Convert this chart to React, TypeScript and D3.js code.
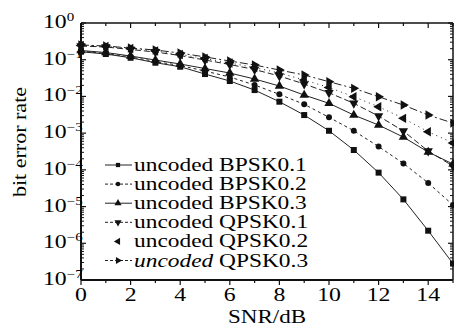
import { useEffect, useRef } from 'react'
import * as d3 from 'd3'

// values (BER vs SNR)
const snr = [0, 1, 2, 3, 4, 5, 6, 7, 8, 9, 10, 11, 12, 13, 14, 15]
const bpsk01 = [0.165, 0.143, 0.113, 0.0828, 0.0644, 0.0407, 0.0263, 0.0149, 0.00718, 0.00311, 0.00116, 3.47e-4, 8.4e-5, 1.57e-5, 2.2e-6, 2.8e-7]
const bpsk02 = [0.171, 0.148, 0.119, 0.0893, 0.0695, 0.0492, 0.0338, 0.0205, 0.0114, 0.0061, 0.0027, 0.00116, 4.3e-4, 1.5e-4, 4.4e-5, 1.1e-5]
const bpsk03 = [0.178, 0.157, 0.126, 0.098, 0.0763, 0.0575, 0.0434, 0.0298, 0.0192, 0.0109, 0.00649, 0.00311, 0.00166, 7.8e-4, 3.05e-4, 1.44e-4]
const qpsk01 = [0.236, 0.222, 0.19, 0.162, 0.13, 0.098, 0.074, 0.054, 0.036, 0.0218, 0.0126, 0.00649, 0.00292, 0.00114, 3.25e-4, 1.27e-4]
const qpsk02 = [0.244, 0.229, 0.202, 0.173, 0.139, 0.108, 0.0813, 0.0613, 0.0434, 0.028, 0.0175, 0.0098, 0.00524, 0.00253, 0.00109, 5.4e-4]
const qpsk03 = [0.252, 0.236, 0.208, 0.184, 0.152, 0.119, 0.0922, 0.0717, 0.0524, 0.0383, 0.0252, 0.0166, 0.0098, 0.00583, 0.00311, 0.00188]

const labels = ['BPSK0.1', 'BPSK0.2', 'BPSK0.3', 'QPSK0.1', 'QPSK0.2', 'QPSK0.3']
const xTicks = [0, 2, 4, 6, 8, 10, 12, 14]
const yExponents = [0, -1, -2, -3, -4, -5, -6, -7]

const allSeries = [bpsk01, bpsk02, bpsk03, qpsk01, qpsk02, qpsk03]
const markers = ['square', 'circle', 'up', 'down', 'left', 'right']
const dashes = ['none', '3,3', 'none', '6,3', '1,4', '8,3,2,3']

const FONT = '"Liberation Serif", "DejaVu Serif", serif'

export default function App() {
  const svgRef = useRef<SVGSVGElement | null>(null)

  useEffect(() => {
    if (!svgRef.current) return
    const svg = d3.select(svgRef.current)
    svg.selectAll('*').remove()

    const left = 81, right = 453, top = 23, bottom = 280
    const x = d3.scaleLinear().domain([0, 15]).range([left, right])
    const y = d3.scaleLog().domain([1e-7, 1]).range([bottom, top])

    const ink = '#111'

    const drawMarker = (g: any, kind: string, cx: number, cy: number, size: number) => {
      if (kind === 'square') {
        const s = Math.sqrt(size)
        g.append('rect').attr('x', cx - s / 2).attr('y', cy - s / 2).attr('width', s).attr('height', s).attr('fill', ink)
        return
      }
      if (kind === 'circle') {
        g.append('circle').attr('cx', cx).attr('cy', cy).attr('r', Math.sqrt(size / Math.PI)).attr('fill', ink)
        return
      }
      const rot = kind === 'up' ? 0 : kind === 'down' ? 180 : kind === 'left' ? -90 : 90
      g.append('path')
        .attr('d', d3.symbol().type(d3.symbolTriangle).size(size)())
        .attr('transform', `translate(${cx},${cy}) rotate(${rot})`)
        .attr('fill', ink)
    }

    // curves
    const line = d3.line<number>().x((_, i) => x(snr[i])).y(d => y(d))
    const plot = svg.append('g')
    allSeries.forEach((vals, k) => {
      plot.append('path')
        .datum(vals)
        .attr('fill', 'none')
        .attr('stroke', '#222')
        .attr('stroke-width', 1)
        .attr('stroke-dasharray', dashes[k])
        .attr('d', line)
    })
    allSeries.forEach((vals, k) => {
      vals.forEach((v, i) => drawMarker(plot, markers[k], x(snr[i]), y(v), markers[k] === 'square' ? 36 : markers[k] === 'circle' ? 28 : 38))
    })

    // frame
    const axes = svg.append('g').attr('stroke', ink)
    axes.append('line').attr('x1', left).attr('x2', right).attr('y1', top).attr('y2', top).attr('stroke-width', 1.5)
    axes.append('line').attr('x1', left).attr('x2', right).attr('y1', bottom).attr('y2', bottom).attr('stroke-width', 2)
    axes.append('line').attr('x1', left).attr('x2', left).attr('y1', top).attr('y2', bottom).attr('stroke-width', 2)
    axes.append('line').attr('x1', right).attr('x2', right).attr('y1', top).attr('y2', bottom).attr('stroke-width', 1.5)

    // x ticks
    d3.range(0, 16).forEach(t => {
      const major = t % 2 === 0
      const len = major ? 5 : 3
      axes.append('line').attr('x1', x(t)).attr('x2', x(t)).attr('y1', top).attr('y2', top + len).attr('stroke-width', 1.2)
      axes.append('line').attr('x1', x(t)).attr('x2', x(t)).attr('y1', bottom).attr('y2', bottom + len).attr('stroke-width', 1.2)
    })

    // y ticks (log)
    yExponents.forEach(e => {
      const v = Math.pow(10, e)
      axes.append('line').attr('x1', left).attr('x2', left + 5).attr('y1', y(v)).attr('y2', y(v)).attr('stroke-width', 1.2)
      axes.append('line').attr('x1', right).attr('x2', right - 5).attr('y1', y(v)).attr('y2', y(v)).attr('stroke-width', 1.2)
      if (e > -7) {
        d3.range(2, 10).forEach(m => {
          const mv = m * v / 10
          axes.append('line').attr('x1', left).attr('x2', left + 3).attr('y1', y(mv)).attr('y2', y(mv)).attr('stroke-width', 1)
          axes.append('line').attr('x1', right).attr('x2', right - 3).attr('y1', y(mv)).attr('y2', y(mv)).attr('stroke-width', 1)
        })
      }
    })

    // tick labels
    const txt = svg.append('g').attr('font-family', FONT).attr('fill', '#000')
    xTicks.forEach(t => {
      txt.append('text')
        .attr('transform', `translate(${x(t)},301) scale(1.25,1)`)
        .attr('text-anchor', 'middle')
        .attr('font-size', 19)
        .text(String(t))
    })
    yExponents.forEach(e => {
      const tx = txt.append('text')
        .attr('transform', `translate(43,${y(Math.pow(10, e)) + 5}) scale(1.25,1)`)
        .attr('font-size', 19)
      tx.append('tspan').text('10')
      tx.append('tspan').attr('font-size', 12).attr('dy', -7).text(e === 0 ? '0' : `\u2212${-e}`)
    })

    txt.append('text')
      .attr('transform', `translate(${(left + right) / 2},323) scale(1.28,1)`)
      .attr('text-anchor', 'middle')
      .attr('font-size', 18)
      .text('SNR/dB')

    txt.append('text')
      .attr('transform', 'translate(26,142) rotate(-90) scale(1.16,1)')
      .attr('text-anchor', 'middle')
      .attr('font-size', 19)
      .text('bit error rate')

    // legend
    const lg = svg.append('g')
    labels.forEach((lab, k) => {
      const cy = 165 + k * 19.1
      if (dashes[k] !== '1,4') {
        lg.append('line').attr('x1', 105).attr('x2', 132).attr('y1', cy).attr('y2', cy)
          .attr('stroke', '#222').attr('stroke-width', 1).attr('stroke-dasharray', dashes[k] === 'none' ? null : '3,2')
      }
      drawMarker(lg, markers[k], 118, cy, markers[k] === 'square' ? 18 : markers[k] === 'circle' ? 16 : 22)
      const t = lg.append('text')
        .attr('transform', `translate(134,${cy + 6}) scale(1.3,1)`)
        .attr('font-family', FONT)
        .attr('font-size', 18)
        .attr('fill', '#000')
      t.append('tspan').attr('font-style', k === 5 ? 'italic' : 'normal').text('uncoded')
      t.append('tspan').text(' ' + lab)
    })
  }, [])

  return (
    <div style={{ position: 'absolute', left: 0, top: 0, background: '#fff' }}>
      <svg ref={svgRef} width={454} height={328} style={{ display: 'block' }} />
    </div>
  )
}
